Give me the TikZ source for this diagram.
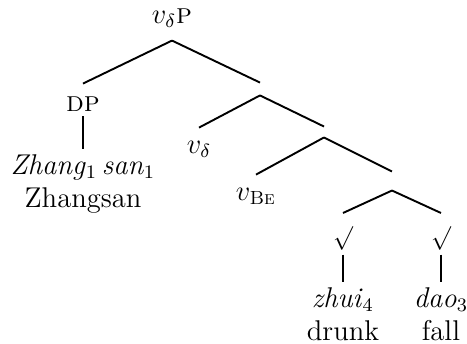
\documentclass[tikz,border=0pt]{standalone}
\usepackage{amsmath}
\usetikzlibrary{positioning}

\begin{document}
\begin{tikzpicture}[x=0.42pt, y=-0.42pt,
		cat/.style={inner sep=2pt, outer ysep=3.5pt, font=\large},
		blank/.style={inner sep=0pt, minimum width=0pt, minimum height=#1},
		leaf/.style={inner sep=2pt, align=center, font=\large},
		branch/.style={thick},
		unary/.style={thick, shorten <=-3.5pt}
		]
		\useasboundingbox (0,0) rectangle (467,344);
		
		% Categories
		\node[cat] (vdP) at (172,18) {$v_\delta$\textsc{p}};
		\node[cat] (dp) at (83,104) {\textsc{dp}};
		\node[blank=5pt] (x1) at (260,89) {};
		\node[cat] (vd) at (199,149) {$v_\delta$};
		\node[blank=4.2pt] (x2) at (324,132) {};
		\node[cat] (vbe) at (256,196) {$v_{\text{\textsc{Be}}}$};
		\node[blank=7.6pt] (x3) at (392,181) {};
		\node[cat, font=\normalsize] (rt1) at (343,238) {$\surd$};
		\node[cat, font=\normalsize] (rt2) at (441,238) {$\surd$};
		
		% Leaves
		\node[leaf, anchor=north] (zs) at (83,149) {\textit{Zhang}$_1$\,\textit{san}$_1$\\Zhangsan};
		\node[leaf, anchor=north] (zhui) at (343,282) {\textit{zhui}$_4$\\drunk};
		\node[leaf, anchor=north] (dao) at (441,282) {\textit{dao}$_3$\\fall};
		
		% Branches
		\draw[branch] (vdP.south) -- (dp.north);
		\draw[branch] (vdP.south) -- (x1.north);
		\draw[branch] (x1.south) -- (vd.north);
		\draw[branch] (x1.south) -- (x2.north);
		\draw[branch] (x2.south) -- (vbe.north);
		\draw[branch] (x2.south) -- (x3.north);
		\draw[branch] (x3.south) -- (rt1.north);
		\draw[branch] (x3.south) -- (rt2.north);
		
		% Unary lines
		\draw[unary] (dp.south) -- (zs.north);
		\draw[unary] (rt1.south) -- (zhui.north);
		\draw[unary] (rt2.south) -- (dao.north);
		
	\end{tikzpicture}
\end{document}
